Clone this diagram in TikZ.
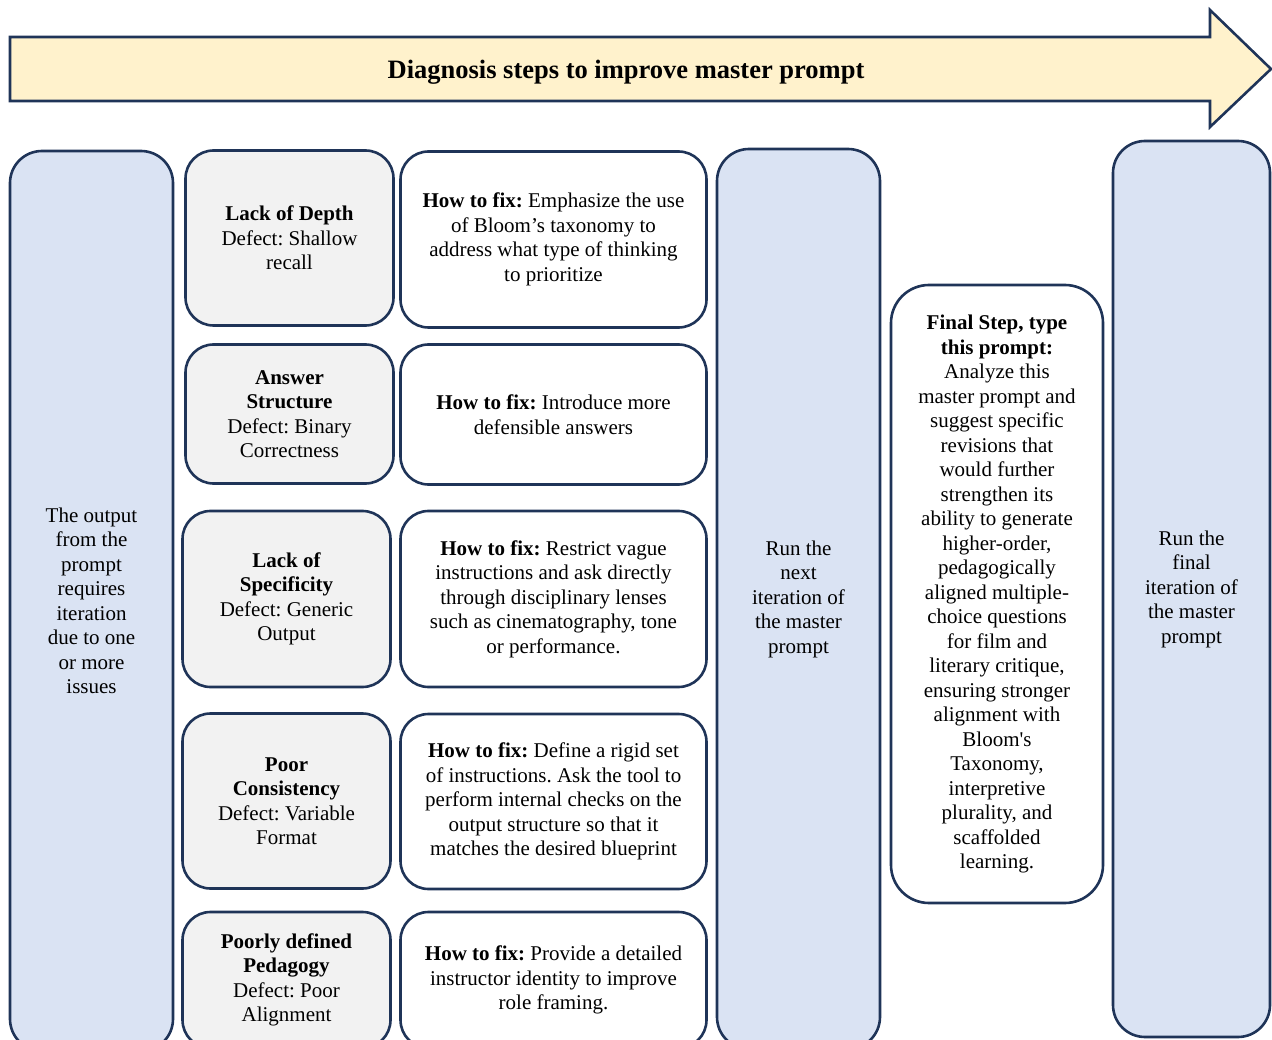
\documentclass[tikz,border=0pt]{standalone}
\usepackage{fontspec}
\setmainfont{Liberation Serif}
\frenchspacing
\definecolor{navy}{HTML}{1F3458}
\definecolor{arrowfill}{HTML}{FFF2CC}
\definecolor{colfill}{HTML}{DAE3F3}
\definecolor{defectfill}{HTML}{F2F2F2}
\tikzset{
  base/.style={draw=navy, line width=2.6pt, align=center, inner sep=0pt,
    font=\fontsize{21}{24.5}\selectfont},
  column/.style={base, fill=colfill, rounded corners=32pt},
  defect/.style={base, fill=defectfill, rounded corners=28pt, minimum width=208pt},
  fixbox/.style={base, fill=white, rounded corners=28pt, minimum width=306pt},
  finalbox/.style={base, fill=white, rounded corners=38pt},
}
\begin{document}
\begin{tikzpicture}[x=1pt,y=-1pt]
\useasboundingbox (0,0) rectangle (1272,1040);
\clip (0,0) rectangle (1272,1040);
% banner arrow
\draw[navy, line width=2.6pt, fill=arrowfill, line join=miter]
  (10,37) -- (1210,37) -- (1210,10) -- (1271,69) -- (1210,127) -- (1210,101) -- (10,101) -- cycle;
\node[font=\fontsize{26.5}{30}\selectfont\bfseries] (title) at (626,72) {Diagnosis steps to improve master prompt};
% left column
\node[column, minimum width=163pt, minimum height=900pt] (left) at (91.5,601)
  {The output\\from the\\prompt\\requires\\iteration\\due to one\\or more\\issues};
% defect boxes
\node[defect, minimum height=175pt] (d1) at (289.5,238)
  {\textbf{Lack of Depth}\\Defect: Shallow\\recall};
\node[defect, minimum height=139pt] (d2) at (289.5,414)
  {\textbf{Answer}\\\textbf{Structure}\\Defect: Binary\\Correctness};
\node[defect, minimum height=176pt] (d3) at (286.5,599)
  {\textbf{Lack of}\\\textbf{Specificity}\\Defect: Generic\\Output};
\node[defect, minimum height=175pt] (d4) at (286.5,801)
  {\textbf{Poor}\\\textbf{Consistency}\\Defect: Variable\\Format};
\node[defect, minimum height=136pt] (d5) at (286.5,980)
  {\textbf{Poorly defined}\\\textbf{Pedagogy}\\Defect: Poor\\Alignment};
% fix boxes
\node[fixbox, minimum height=176pt] (f1) at (553.5,239.5)
  {\textbf{How to fix:} Emphasize the use\\of Bloom’s taxonomy to\\address what type of thinking\\to prioritize};
\node[fixbox, minimum height=140pt] (f2) at (553.5,414.5)
  {\textbf{How to fix:} Introduce more\\defensible answers};
\node[fixbox, minimum height=176pt] (f3) at (553.5,599)
  {\textbf{How to fix:} Restrict vague\\instructions and ask directly\\through disciplinary lenses\\such as cinematography, tone\\or performance.};
\node[fixbox, minimum height=175pt] (f4) at (553.5,801.5)
  {\textbf{How to fix:} Define a rigid set\\of instructions. Ask the tool to\\perform internal checks on the\\output structure so that it\\matches the desired blueprint};
\node[fixbox, minimum height=136pt] (f5) at (553.5,980)
  {\textbf{How to fix:} Provide a detailed\\instructor identity to improve\\role framing.};
% middle column
\node[column, minimum width=163pt, minimum height=900pt] (mid) at (798.5,599)
  {Run the\\next\\iteration of\\the master\\prompt};
% final step
\node[finalbox, minimum width=212pt, minimum height=618pt] (final) at (997,594)
  {\textbf{Final Step, type}\\\textbf{this prompt:}\\Analyze this\\master prompt and\\suggest specific\\revisions that\\would further\\strengthen its\\ability to generate\\higher-order,\\pedagogically\\aligned multiple-\\choice questions\\for film and\\literary critique,\\ensuring stronger\\alignment with\\Bloom\textquotesingle s\\Taxonomy,\\interpretive\\plurality, and\\scaffolded\\learning.};
% right column
\node[column, minimum width=157pt, minimum height=896pt] (right) at (1191.5,589)
  {Run the\\final\\iteration of\\the master\\prompt};
\end{tikzpicture}
\end{document}
